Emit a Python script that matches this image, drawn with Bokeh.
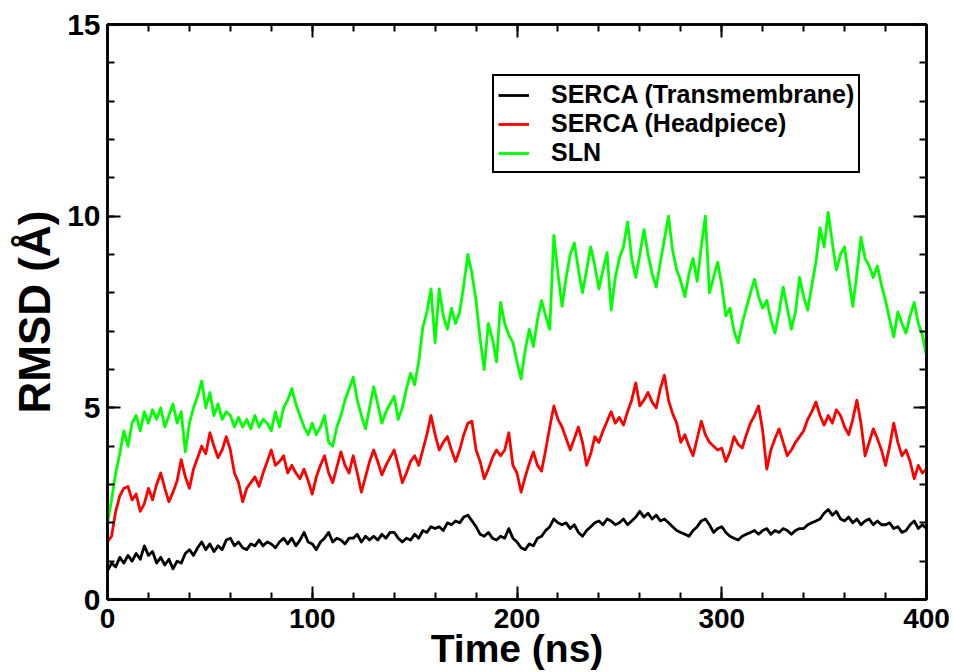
from bokeh.plotting import figure
from bokeh.models import Range1d, SingleIntervalTicker, LinearAxis
from bokeh.embed import file_html
from bokeh.resources import INLINE

# ---- data (every 2 ns) ----
time_ns = list(range(0, 401, 2))

serca_tm = [
    0.75, 0.95, 0.85, 1.1, 0.95, 1.15, 1.0, 1.2, 1.05, 1.4,
    1.15, 1.25, 0.95, 1.1, 0.9, 1.05, 0.8, 1.0, 0.95, 1.2,
    1.3, 1.15, 1.35, 1.5, 1.3, 1.45, 1.25, 1.4, 1.3, 1.55,
    1.6, 1.4, 1.5, 1.35, 1.3, 1.45, 1.4, 1.55, 1.4, 1.5,
    1.45, 1.35, 1.5, 1.6, 1.45, 1.6, 1.4, 1.55, 1.75, 1.5,
    1.45, 1.3, 1.5, 1.6, 1.75, 1.5, 1.6, 1.55, 1.45, 1.6,
    1.6, 1.7, 1.5, 1.65, 1.55, 1.65, 1.55, 1.7, 1.6, 1.75,
    1.75, 1.6, 1.5, 1.6, 1.55, 1.7, 1.6, 1.8, 1.75, 1.9,
    1.85, 1.9, 1.8, 2.0, 1.95, 2.05, 2.0, 2.15, 2.2, 2.05,
    1.9, 1.7, 1.65, 1.75, 1.6, 1.55, 1.65, 1.6, 1.85, 1.6,
    1.5, 1.35, 1.3, 1.45, 1.4, 1.6, 1.65, 1.8, 1.9, 2.1,
    2.0, 1.95, 2.0, 1.85, 1.95, 1.75, 1.65, 1.8, 1.9, 2.0,
    2.05, 1.95, 2.1, 2.05, 1.95, 2.0, 2.1, 1.95, 2.05, 2.15,
    2.3, 2.15, 2.25, 2.1, 2.2, 2.05, 2.1, 2.0, 1.9, 1.8,
    1.75, 1.7, 1.65, 1.8, 1.9, 2.05, 2.1, 1.95, 1.75, 1.85,
    1.9, 1.75, 1.65, 1.6, 1.55, 1.65, 1.7, 1.75, 1.8, 1.7,
    1.8, 1.85, 1.7, 1.8, 1.75, 1.85, 1.8, 1.7, 1.8, 1.85,
    1.85, 1.95, 2.0, 2.05, 2.1, 2.25, 2.35, 2.2, 2.3, 2.1,
    2.05, 2.15, 2.0, 2.1, 1.95, 2.05, 2.1, 1.95, 2.05, 1.95,
    1.95, 2.0, 1.85, 1.9, 1.75, 1.8, 1.95, 2.05, 1.85, 1.95,
    1.85,
]

serca_head = [
    1.5, 1.65, 2.3, 2.7, 2.9, 2.95, 2.6, 2.75, 2.3, 2.5,
    2.9, 2.6, 3.0, 3.3, 2.9, 2.55, 2.8, 3.1, 3.65, 3.2,
    2.9, 3.4, 3.7, 4.0, 3.8, 4.35, 4.0, 3.7, 3.9, 4.25,
    3.9, 3.3, 3.05, 2.55, 2.9, 3.05, 3.2, 2.95, 3.3, 3.6,
    3.9, 3.5, 3.6, 3.75, 3.3, 3.5, 3.3, 3.15, 3.4, 3.1,
    2.75, 3.2, 3.5, 3.75, 3.3, 3.05, 3.45, 3.85, 3.5, 3.3,
    3.75, 3.3, 2.8, 3.2, 3.6, 3.9, 3.6, 3.25, 3.5, 3.7,
    3.9, 3.5, 3.05, 3.3, 3.6, 3.75, 3.5, 3.9, 4.3, 4.8,
    4.3, 3.9, 4.1, 4.25, 3.9, 3.6, 3.9, 4.3, 4.6, 4.65,
    3.9, 3.6, 3.15, 3.4, 3.7, 3.9, 3.75, 3.9, 4.35, 3.5,
    3.3, 2.8, 3.2, 3.55, 3.85, 3.5, 3.35, 3.9, 4.5, 5.05,
    4.7, 4.5, 4.2, 3.9, 4.2, 4.5, 4.1, 3.5, 3.8, 4.25,
    4.1, 4.4, 4.65, 4.9, 4.6, 4.75, 4.55, 4.9, 5.2, 5.65,
    5.05, 5.2, 5.4, 5.15, 5.0, 5.5, 5.85, 5.2, 4.85, 4.6,
    4.1, 4.3, 4.0, 3.75, 4.2, 4.65, 4.3, 4.1, 4.0, 3.9,
    3.95, 3.6, 3.85, 4.25, 4.05, 3.95, 4.3, 4.6, 4.8, 5.05,
    4.4, 3.4, 3.9, 4.2, 4.45, 4.1, 3.75, 3.9, 4.1, 4.25,
    4.4, 4.7, 4.9, 5.15, 4.8, 4.55, 4.8, 4.6, 4.95, 4.8,
    4.5, 4.3, 4.7, 5.2, 4.6, 3.75, 4.1, 4.45, 4.2, 3.9,
    3.5, 4.0, 4.6, 4.1, 3.75, 3.9, 3.6, 3.15, 3.5, 3.3,
    3.4,
]

sln = [
    2.0, 2.6, 3.3, 3.8, 4.4, 4.0, 4.6, 4.8, 4.4, 4.9,
    4.6, 4.95, 4.7, 5.0, 4.5, 4.8, 5.1, 4.6, 4.9, 3.85,
    4.6, 5.0, 5.3, 5.7, 5.0, 5.4, 4.8, 5.1, 4.7, 4.9,
    4.8, 4.5, 4.75, 4.5, 4.7, 4.45, 4.8, 4.5, 4.7, 4.6,
    4.4, 4.9, 4.5, 5.0, 5.2, 5.5, 5.1, 4.8, 4.5, 4.3,
    4.6, 4.3, 4.5, 4.8, 4.1, 4.0, 4.5, 4.8, 5.2, 5.5,
    5.8, 5.2, 4.8, 4.45, 5.0, 5.55, 5.1, 4.6, 4.9, 5.1,
    5.3, 4.7, 5.0, 5.5, 5.9, 5.6, 6.2, 7.1, 7.5, 8.1,
    6.7, 8.1, 7.4, 7.05, 7.6, 7.2, 7.5, 8.2, 9.0, 8.5,
    7.8, 6.8, 6.0, 7.2, 6.8, 6.2, 7.75, 7.2, 6.9, 6.7,
    6.2, 5.75, 6.5, 7.05, 6.6, 7.3, 7.8, 7.4, 7.05, 9.5,
    8.5, 7.65, 8.4, 9.0, 9.3, 8.6, 8.0, 8.6, 9.2, 8.7,
    8.1, 8.6, 9.05, 7.55, 8.4, 8.9, 9.2, 9.85, 8.9, 8.4,
    9.0, 9.65, 9.0, 8.5, 8.15, 8.8, 9.4, 10.0, 9.1, 8.6,
    8.3, 7.9, 8.5, 8.9, 8.3, 9.2, 10.0, 8.0, 8.4, 8.8,
    8.2, 7.4, 7.6, 7.0, 6.7, 7.2, 7.6, 8.0, 8.35, 7.9,
    7.6, 7.8, 7.3, 6.95, 7.5, 8.15, 7.6, 7.05, 7.5, 8.4,
    7.9, 7.55, 8.2, 8.8, 9.7, 9.2, 10.1, 9.3, 8.6, 9.0,
    9.2, 8.4, 7.65, 8.5, 9.45, 8.9, 8.7, 8.4, 8.7, 8.2,
    7.8, 7.3, 6.85, 7.5, 7.2, 6.95, 7.4, 7.75, 7.2, 6.9,
    6.35,
]

series_names = ["SERCA (Transmembrane)", "SERCA (Headpiece)", "SLN"]
series_colors = ["#000000", "#ff0000", "#00ff00"]

FONT = "Liberation Sans"

p = figure(
    width=953, height=672,
    x_range=Range1d(0, 400), y_range=Range1d(0, 15),
    output_backend="svg", toolbar_location=None,
    min_border_left=107, min_border_right=27,
    min_border_top=24, min_border_bottom=71,
)
p.background_fill_color = "white"
p.border_fill_color = "white"
p.outline_line_color = "black"
p.outline_line_width = 2.5
p.xgrid.visible = False
p.ygrid.visible = False

for vals, name, col in zip([serca_tm, serca_head, sln], series_names, series_colors):
    p.line(time_ns, vals, line_color=col, line_width=2.8, line_join="round",
           legend_label=name)

xt = SingleIntervalTicker(interval=100, num_minor_ticks=5)
yt = SingleIntervalTicker(interval=5, num_minor_ticks=5)

def style_axis(ax, show_labels):
    ax.axis_line_color = "black"
    ax.axis_line_width = 2.5
    ax.major_tick_line_color = "black"
    ax.minor_tick_line_color = "black"
    ax.major_tick_line_width = 2
    ax.minor_tick_line_width = 2
    ax.major_tick_in = 13
    ax.major_tick_out = 0
    ax.minor_tick_in = 7
    ax.minor_tick_out = 0
    if not show_labels:
        ax.major_label_text_font_size = "1px"
        ax.major_label_text_color = None
        ax.major_label_standoff = 0

p.xaxis.ticker = xt
p.yaxis.ticker = yt
style_axis(p.xaxis[0], True)
style_axis(p.yaxis[0], True)

p.xaxis.major_label_text_font = FONT
p.xaxis.major_label_text_font_style = "bold"
p.xaxis.major_label_text_font_size = "28px"
p.xaxis.major_label_text_color = "black"
p.xaxis.major_label_standoff = 9
p.xaxis.axis_label = "Time (ns)"
p.xaxis.axis_label_text_font = FONT
p.xaxis.axis_label_text_font_style = "bold"
p.xaxis.axis_label_text_font_size = "39px"
p.xaxis.axis_label_text_color = "black"
p.xaxis.axis_label_standoff = -4

p.yaxis.major_label_text_font = FONT
p.yaxis.major_label_text_font_style = "bold"
p.yaxis.major_label_text_font_size = "30px"
p.yaxis.major_label_text_color = "black"
p.yaxis.major_label_standoff = 7
p.yaxis.axis_label = "RMSD (Å)"
p.yaxis.axis_label_text_font = FONT
p.yaxis.axis_label_text_font_style = "bold"
p.yaxis.axis_label_text_font_size = "44px"
p.yaxis.axis_label_text_color = "black"
p.yaxis.axis_label_standoff = 5

top_ax = LinearAxis(ticker=SingleIntervalTicker(interval=100, num_minor_ticks=5))
right_ax = LinearAxis(ticker=SingleIntervalTicker(interval=5, num_minor_ticks=5))
style_axis(top_ax, False)
style_axis(right_ax, False)
p.add_layout(top_ax, "above")
p.add_layout(right_ax, "right")

leg = p.legend[0]
leg.location = (385, 426)
leg.padding = 4
leg.spacing = 0
leg.margin = 0
leg.label_height = 26
leg.glyph_height = 26
leg.glyph_width = 31
leg.label_standoff = 22
leg.label_text_font = FONT
leg.label_text_font_style = "bold"
leg.label_text_font_size = "25px"
leg.label_text_color = "black"
leg.border_line_color = "black"
leg.border_line_width = 2
leg.border_line_alpha = 1.0
leg.background_fill_color = "white"
leg.background_fill_alpha = 1.0

open("out.html", "w").write(file_html(p, INLINE))
